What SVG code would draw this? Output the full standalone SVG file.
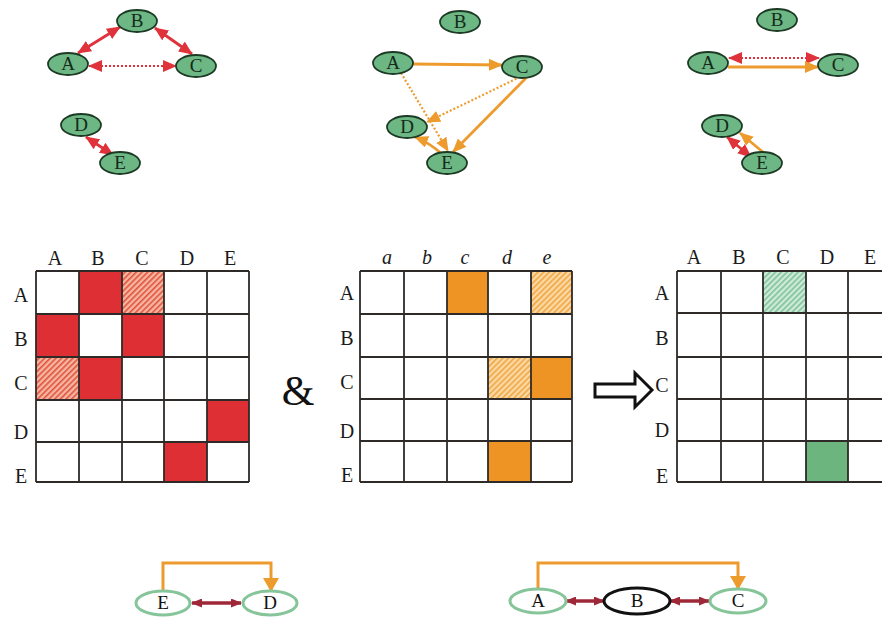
<svg xmlns="http://www.w3.org/2000/svg" width="882" height="624" viewBox="0 0 882 624">
<defs>
<style>
.nd{fill:#6db784;stroke:#1d3a25;stroke-width:1.8}
.nt{font-family:"Liberation Serif",serif;font-size:19px;fill:#152a1a;text-anchor:middle}
.lb{font-family:"Liberation Serif",serif;font-size:20px;fill:#1a1a1a;text-anchor:middle}
.it{font-style:italic}
.rd{stroke:#e0323a;stroke-width:2.8;fill:none}
.rdd{stroke:#e0323a;stroke-width:2.2;fill:none;stroke-dasharray:2 2}
.or{stroke:#ee9b2e;stroke-width:2.8;fill:none}
.ord{stroke:#ee9b2e;stroke-width:2.2;fill:none;stroke-dasharray:2 2}
.grid{stroke:#2e2a28;stroke-width:1.8;fill:none}
.bn{fill:#fff;stroke:#86c49a;stroke-width:3}
.bb{fill:#fff;stroke:#111;stroke-width:3}
.dr{stroke:#9e2838;stroke-width:3.5;fill:none}
.ob{stroke:#ee9b2e;stroke-width:3}
</style>
<marker id="mr" markerUnits="userSpaceOnUse" markerWidth="14" markerHeight="12" refX="13" refY="6" orient="auto-start-reverse"><path d="M0,0 L14,6 L0,12 z" fill="#e0323a"/></marker>
<marker id="mo" markerUnits="userSpaceOnUse" markerWidth="14" markerHeight="12" refX="13" refY="6" orient="auto-start-reverse"><path d="M0,0 L14,6 L0,12 z" fill="#ee9b2e"/></marker>
<marker id="mob" markerUnits="userSpaceOnUse" markerWidth="16" markerHeight="14" refX="8" refY="13" orient="0"><path d="M0,0 L16,0 L8,14 z" fill="#ee9b2e"/></marker>
<marker id="md" markerUnits="userSpaceOnUse" markerWidth="11" markerHeight="9" refX="10" refY="4.5" orient="auto-start-reverse"><path d="M0,0 L11,4.5 L0,9 z" fill="#9e2838"/></marker>
<pattern id="hr" patternUnits="userSpaceOnUse" width="4" height="4" patternTransform="rotate(45)"><rect width="4" height="4" fill="#f6b7a2"/><rect width="1.6" height="4" fill="#e0523c"/></pattern>
<pattern id="ho" patternUnits="userSpaceOnUse" width="4" height="4" patternTransform="rotate(45)"><rect width="4" height="4" fill="#fbd9a6"/><rect width="1.6" height="4" fill="#f0a640"/></pattern>
<pattern id="hg" patternUnits="userSpaceOnUse" width="4" height="4" patternTransform="rotate(45)"><rect width="4" height="4" fill="#cfeadb"/><rect width="1.6" height="4" fill="#7cc296"/></pattern>
</defs>
<rect width="882" height="624" fill="#fff"/>

<g id="connectors">
<line class="rd" x1="78" y1="53" x2="120" y2="27" marker-start="url(#mr)" marker-end="url(#mr)"/>
<line class="rd" x1="155" y1="28" x2="192" y2="54" marker-start="url(#mr)" marker-end="url(#mr)"/>
<line class="rdd" x1="89" y1="66" x2="176" y2="66" marker-start="url(#mr)" marker-end="url(#mr)"/>
<line class="rd" x1="86" y1="137" x2="113" y2="155" marker-start="url(#mr)" marker-end="url(#mr)"/>
<line class="or" x1="413" y1="64" x2="502" y2="65" marker-end="url(#mo)"/>
<line class="ord" x1="401" y1="73" x2="448" y2="151" marker-end="url(#mo)"/>
<line class="ord" x1="520" y1="77" x2="427" y2="122" marker-end="url(#mo)"/>
<line class="or" x1="527" y1="77" x2="453" y2="152" marker-end="url(#mo)"/>
<path class="or" d="M443,155 Q430,143 415,137" marker-end="url(#mo)"/>
<line class="rdd" x1="729" y1="58" x2="819" y2="58" marker-start="url(#mr)" marker-end="url(#mr)"/>
<line class="or" x1="728" y1="67" x2="818" y2="67" marker-end="url(#mo)"/>
<line class="rd" x1="727" y1="137" x2="751" y2="157" marker-start="url(#mr)" marker-end="url(#mr)"/>
<line class="or" x1="764" y1="153" x2="740" y2="133" marker-end="url(#mo)"/>
<path class="ob" fill="none" d="M163,591 V563 H271 V591" marker-end="url(#mob)"/>
<line class="dr" x1="192" y1="603" x2="241" y2="603" marker-start="url(#md)" marker-end="url(#md)"/>
<path class="ob" fill="none" d="M538,589 V563 H738 V589" marker-end="url(#mob)"/>
<line class="dr" x1="566" y1="601" x2="604" y2="601" marker-start="url(#md)" marker-end="url(#md)"/>
<line class="dr" x1="670" y1="601" x2="709" y2="601" marker-start="url(#md)" marker-end="url(#md)"/>
</g>

<g id="g1-A"><ellipse class="nd" cx="68" cy="64" rx="20" ry="11"/><text class="nt" x="68" y="70">A</text></g>
<g id="g1-B"><ellipse class="nd" cx="137" cy="21" rx="20" ry="11"/><text class="nt" x="137" y="27">B</text></g>
<g id="g1-C"><ellipse class="nd" cx="196" cy="66" rx="20" ry="11"/><text class="nt" x="196" y="72">C</text></g>
<g id="g1-D"><ellipse class="nd" cx="81" cy="125" rx="20" ry="11"/><text class="nt" x="81" y="131">D</text></g>
<g id="g1-E"><ellipse class="nd" cx="120" cy="163" rx="20" ry="11"/><text class="nt" x="120" y="169">E</text></g>
<g id="g2-A"><ellipse class="nd" cx="393" cy="63" rx="20" ry="11"/><text class="nt" x="393" y="69">A</text></g>
<g id="g2-B"><ellipse class="nd" cx="460" cy="22" rx="20" ry="11"/><text class="nt" x="460" y="28">B</text></g>
<g id="g2-C"><ellipse class="nd" cx="522" cy="67" rx="20" ry="11"/><text class="nt" x="522" y="73">C</text></g>
<g id="g2-D"><ellipse class="nd" cx="407" cy="127" rx="20" ry="11"/><text class="nt" x="407" y="133">D</text></g>
<g id="g2-E"><ellipse class="nd" cx="447" cy="163" rx="20" ry="11"/><text class="nt" x="447" y="169">E</text></g>
<g id="g3-A"><ellipse class="nd" cx="708" cy="63" rx="20" ry="11"/><text class="nt" x="708" y="69">A</text></g>
<g id="g3-B"><ellipse class="nd" cx="777" cy="20" rx="20" ry="11"/><text class="nt" x="777" y="26">B</text></g>
<g id="g3-C"><ellipse class="nd" cx="838" cy="65" rx="20" ry="11"/><text class="nt" x="838" y="71">C</text></g>
<g id="g3-D"><ellipse class="nd" cx="722" cy="126" rx="20" ry="11"/><text class="nt" x="722" y="132">D</text></g>
<g id="g3-E"><ellipse class="nd" cx="762" cy="163" rx="20" ry="11"/><text class="nt" x="762" y="169">E</text></g>

<g id="matrix1">
<rect x="79" y="271" width="43" height="43" fill="#dd2f34"/>
<rect x="122" y="271" width="42" height="43" fill="url(#hr)"/>
<rect x="36" y="314" width="43" height="43" fill="#dd2f34"/>
<rect x="122" y="314" width="42" height="43" fill="#dd2f34"/>
<rect x="36" y="357" width="43" height="43" fill="url(#hr)"/>
<rect x="79" y="357" width="43" height="43" fill="#dd2f34"/>
<rect x="207" y="400" width="42" height="42" fill="#dd2f34"/>
<rect x="164" y="442" width="43" height="40" fill="#dd2f34"/>
<path class="grid" d="M36,271 V482 M79,271 V482 M122,271 V482 M164,271 V482 M207,271 V482 M249,271 V482 M36,271 H249 M36,314 H249 M36,357 H249 M36,400 H249 M36,442 H249 M36,482 H249"/>
<text class="lb" x="55" y="265">A</text><text class="lb" x="98" y="265">B</text><text class="lb" x="142" y="265">C</text><text class="lb" x="187" y="265">D</text><text class="lb" x="230" y="265">E</text>
<text class="lb" x="21" y="302">A</text><text class="lb" x="21" y="346">B</text><text class="lb" x="21" y="390">C</text><text class="lb" x="21" y="439">D</text><text class="lb" x="21" y="483">E</text>
</g>

<g id="amp"><text x="298" y="405" style="font-family:'Liberation Serif',serif;font-size:42px;fill:#111;text-anchor:middle">&amp;</text></g>

<g id="matrix2">
<rect x="447" y="271" width="41" height="43" fill="#ee9424"/>
<rect x="531" y="271" width="41" height="43" fill="url(#ho)"/>
<rect x="488" y="357" width="43" height="42" fill="url(#ho)"/>
<rect x="531" y="357" width="41" height="42" fill="#ee9424"/>
<rect x="488" y="441" width="43" height="41" fill="#ee9424"/>
<path class="grid" d="M360,271 V482 M404,271 V482 M447,271 V482 M488,271 V482 M531,271 V482 M572,271 V482 M360,271 H572 M360,314 H572 M360,357 H572 M360,399 H572 M360,441 H572 M360,482 H572"/>
<text class="lb it" x="387" y="264">a</text><text class="lb it" x="427" y="264">b</text><text class="lb it" x="465" y="264">c</text><text class="lb it" x="507" y="264">d</text><text class="lb it" x="547" y="264">e</text>
<text class="lb" x="347" y="300">A</text><text class="lb" x="347" y="345">B</text><text class="lb" x="347" y="389">C</text><text class="lb" x="347" y="438">D</text><text class="lb" x="347" y="482">E</text>
</g>

<g id="implies"><polygon points="595,384 635,384 635,373 652,390 635,407 635,397 595,397" fill="#fff" stroke="#111" stroke-width="3"/></g>

<g id="matrix3">
<rect x="763" y="271" width="43" height="42" fill="url(#hg)"/>
<rect x="806" y="441" width="42" height="41" fill="#6cb57f"/>
<path class="grid" d="M677,271 V482 M721,271 V482 M763,271 V482 M806,271 V482 M848,271 V482 M891,271 V482 M677,271 H891 M677,313 H891 M677,357 H891 M677,399 H891 M677,441 H891 M677,482 H891"/>
<text class="lb" x="694" y="264">A</text><text class="lb" x="739" y="264">B</text><text class="lb" x="783" y="264">C</text><text class="lb" x="827" y="264">D</text><text class="lb" x="870" y="264">E</text>
<text class="lb" x="662" y="300">A</text><text class="lb" x="662" y="345">B</text><text class="lb" x="662" y="392">C</text><text class="lb" x="662" y="437">D</text><text class="lb" x="662" y="483">E</text>
</g>

<g id="b1-E"><ellipse class="bn" cx="163" cy="603" rx="27" ry="12"/><text class="nt" x="163" y="609" style="fill:#111">E</text></g>
<g id="b1-D"><ellipse class="bn" cx="270" cy="603" rx="27" ry="12"/><text class="nt" x="270" y="609" style="fill:#111">D</text></g>
<g id="b2-A"><ellipse class="bn" cx="538" cy="601" rx="28" ry="12"/><text class="nt" x="538" y="607" style="fill:#111">A</text></g>
<g id="b2-B"><ellipse class="bb" cx="637" cy="601" rx="33" ry="13"/><text class="nt" x="637" y="607" style="fill:#111">B</text></g>
<g id="b2-C"><ellipse class="bn" cx="738" cy="601" rx="28" ry="12"/><text class="nt" x="738" y="607" style="fill:#111">C</text></g>
</svg>
